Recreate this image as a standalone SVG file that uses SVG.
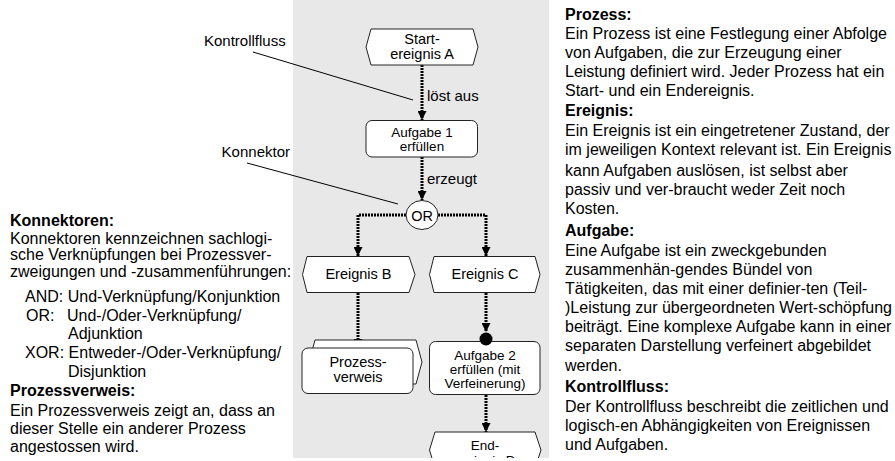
<svg xmlns="http://www.w3.org/2000/svg" width="895" height="461" viewBox="0 0 895 461">
<style>
text{font-family:"Liberation Sans",Arial,sans-serif;fill:#000}
.t{font-size:16px}
.b{font-weight:bold}
.n{font-size:14.5px;text-anchor:middle}
.n2{font-size:13.5px;text-anchor:middle}
.lb{font-size:15px}
.shape{fill:#fff;stroke:#222;stroke-width:1}
.flow{fill:none;stroke:#000;stroke-width:3;stroke-dasharray:2 1}
.lead{fill:none;stroke:#000;stroke-width:1}
</style>
<defs>
<marker id="ah" viewBox="0 0 10 10" refX="10" refY="5" markerWidth="3" markerHeight="3" orient="auto" markerUnits="strokeWidth">
<path d="M0,0 L10,5 L0,10 Z" fill="#000"/>
</marker>
<clipPath id="clip"><rect x="0" y="0" width="895" height="458"/></clipPath>
</defs>
<rect x="293" y="0" width="256" height="458" fill="#e8e8e8"/>

<g id="connectors">
<path class="flow" d="M422,65 V120" marker-end="url(#ah)"/>
<path class="flow" d="M422,157 V200" marker-end="url(#ah)"/>
<path class="flow" d="M406,215 H358 V256" marker-end="url(#ah)"/>
<path class="flow" d="M438,215 H486 V256" marker-end="url(#ah)"/>
<path class="flow" d="M358,293 V348" marker-end="url(#ah)"/>
<path class="flow" d="M486,293 V332" marker-end="url(#ah)"/>
<path class="flow" d="M486,395 V432" marker-end="url(#ah)"/>
<line class="lead" x1="253" y1="52" x2="413" y2="100"/>
<line class="lead" x1="247" y1="163" x2="398" y2="204"/>
<text class="lb" x="427" y="101">löst aus</text>
<text class="lb" x="427" y="184">erzeugt</text>
</g>

<g id="label-kontrollfluss"><text class="lb" x="204" y="46">Kontrollfluss</text></g>
<g id="label-konnektor"><text class="lb" x="290" y="157" text-anchor="end">Konnektor</text></g>

<g id="start-a">
<polygon class="shape" points="371,29 473,29 478,47 473,65 371,65 366,47"/>
<text class="n" x="422" y="44">Start-</text>
<text class="n" x="422" y="59">ereignis A</text>
</g>

<g id="aufgabe-1">
<rect class="shape" x="366" y="120.5" width="111.5" height="36.5" rx="6"/>
<text class="n2" x="422" y="136.5">Aufgabe 1</text>
<text class="n2" x="422" y="150.5">erfüllen</text>
</g>

<g id="or">
<ellipse class="shape" cx="422" cy="215" rx="16" ry="14.5"/>
<text class="n" x="422" y="220.5">OR</text>
</g>

<g id="ereignis-b">
<polygon class="shape" points="307,256.5 409,256.5 415,274.5 409,292.5 307,292.5 302.5,274.5"/>
<text class="n" x="358.5" y="279">Ereignis B</text>
</g>

<g id="ereignis-c">
<polygon class="shape" points="434,256.5 535,256.5 540,274.5 535,292.5 434,292.5 429.5,274.5"/>
<text class="n" x="485" y="279">Ereignis C</text>
</g>

<g id="prozessverweis">
<polygon class="shape" points="315,340 416,340 422,362 416,384 315,384 309,362"/>
<rect class="shape" x="302" y="348" width="111" height="45.5" rx="6"/>
<text class="n" x="358" y="367">Prozess-</text>
<text class="n" x="358" y="382">verweis</text>
</g>

<g id="aufgabe-2">
<rect class="shape" x="429.5" y="341.5" width="110.5" height="53" rx="6"/>
<circle cx="486" cy="339" r="6.5" fill="#000"/>
<text class="n2" x="485" y="360">Aufgabe 2</text>
<text class="n2" x="485" y="374">erfüllen (mit</text>
<text class="n2" x="485" y="388">Verfeinerung)</text>
</g>

<g id="end-d" clip-path="url(#clip)">
<polygon class="shape" points="435,432 535,432 541,450 535,468 435,468 429.5,450"/>
<text class="n2" x="485" y="450">End-</text>
<text class="n2" x="485" y="464.5">ereignis D</text>
</g>

<g id="legend-left">
<text class="t b" x="10" y="225.5">Konnektoren:</text>
<text class="t" x="10" y="244">Konnektoren kennzeichnen sachlogi-</text>
<text class="t" x="10" y="260">sche Verknüpfungen bei Prozessver-</text>
<text class="t" x="10" y="276.5">zweigungen und -zusammenführungen:</text>
<text class="t" x="25" y="301.5">AND: Und-Verknüpfung/Konjunktion</text>
<text class="t" x="26" y="320.5">OR:</text>
<text class="t" x="67" y="320.5">Und-/Oder-Verknüpfung/</text>
<text class="t" x="68" y="339">Adjunktion</text>
<text class="t" x="25" y="358">XOR: Entweder-/Oder-Verknüpfung/</text>
<text class="t" x="68" y="376.5">Disjunktion</text>
<text class="t b" x="10" y="396">Prozessverweis:</text>
<text class="t" x="10" y="415.5">Ein Prozessverweis zeigt an, dass an</text>
<text class="t" x="10" y="434">dieser Stelle ein anderer Prozess</text>
<text class="t" x="10" y="452">angestossen wird.</text>
</g>

<g id="legend-right">
<text class="t b" x="565" y="19.5">Prozess:</text>
<text class="t" x="565" y="39">Ein Prozess ist eine Festlegung einer Abfolge</text>
<text class="t" x="565" y="58">von Aufgaben, die zur Erzeugung einer</text>
<text class="t" x="565" y="77">Leistung definiert wird. Jeder Prozess hat ein</text>
<text class="t" x="565" y="96">Start- und ein Endereignis.</text>
<text class="t b" x="565" y="116">Ereignis:</text>
<text class="t" x="565" y="136">Ein Ereignis ist ein eingetretener Zustand, der</text>
<text class="t" x="565" y="155">im jeweiligen Kontext relevant ist. Ein Ereignis</text>
<text class="t" x="565" y="175.5">kann Aufgaben auslösen, ist selbst aber</text>
<text class="t" x="565" y="194.5">passiv und ver-braucht weder Zeit noch</text>
<text class="t" x="565" y="214">Kosten.</text>
<text class="t b" x="565" y="235.5">Aufgabe:</text>
<text class="t" x="565" y="255.5">Eine Aufgabe ist ein zweckgebunden</text>
<text class="t" x="565" y="275">zusammenhän-gendes Bündel von</text>
<text class="t" x="565" y="294">Tätigkeiten, das mit einer definier-ten (Teil-</text>
<text class="t" x="565" y="313">)Leistung zur übergeordneten Wert-schöpfung</text>
<text class="t" x="565" y="332">beiträgt. Eine komplexe Aufgabe kann in einer</text>
<text class="t" x="565" y="351">separaten Darstellung verfeinert abgebildet</text>
<text class="t" x="565" y="370.5">werden.</text>
<text class="t b" x="565" y="391.5">Kontrollfluss:</text>
<text class="t" x="565" y="411.5">Der Kontrollfluss beschreibt die zeitlichen und</text>
<text class="t" x="565" y="430.5">logisch-en Abhängigkeiten von Ereignissen</text>
<text class="t" x="565" y="449.5">und Aufgaben.</text>
</g>
</svg>
